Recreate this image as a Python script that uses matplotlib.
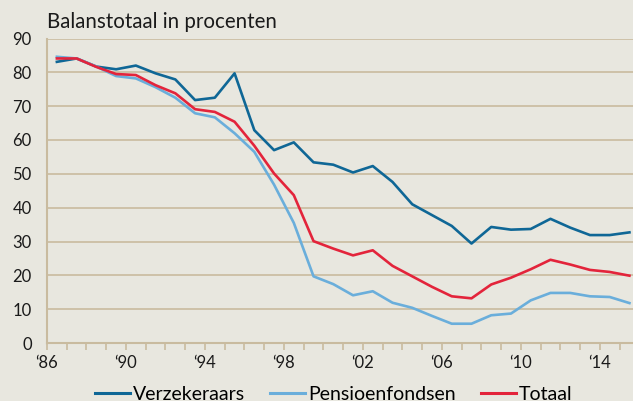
import matplotlib.pyplot as plt
from matplotlib.ticker import MultipleLocator, FixedLocator

# data (points sit mid-year)
years = list(range(1986, 2016))
verzekeraars = [83.1, 84.1, 81.7, 80.9, 82.0, 79.7, 77.9, 71.8, 72.5, 79.7,
                62.9, 57.0, 59.3, 53.4, 52.7, 50.4, 52.3, 47.6, 41.0, 37.8,
                34.6, 29.4, 34.3, 33.5, 33.7, 36.7, 34.1, 31.9, 31.9, 32.7]
pensioenfondsen = [84.6, 84.1, 81.7, 78.9, 78.2, 75.6, 72.5, 67.9, 66.7, 62.0,
                   56.5, 46.8, 35.5, 19.7, 17.4, 14.1, 15.3, 11.9, 10.4, 8.0,
                   5.7, 5.7, 8.2, 8.7, 12.6, 14.8, 14.8, 13.8, 13.6, 11.8]
totaal = [84.1, 84.1, 81.6, 79.5, 79.2, 76.2, 73.8, 69.1, 68.3, 65.4,
          58.3, 50.1, 43.7, 30.1, 27.9, 25.9, 27.4, 22.8, 19.7, 16.6,
          13.8, 13.2, 17.3, 19.3, 21.8, 24.6, 23.2, 21.6, 21.0, 19.9]
tick_years = [1986, 1990, 1994, 1998, 2002, 2006, 2010, 2014]
tick_labels = ["\u201886", "\u201890", "\u201894", "\u201898",
               "\u201802", "\u201806", "\u201810", "\u201814"]

bg = "#e8e7df"
grid_col = "#c9bb9f"

plt.rcParams['font.family'] = ['Lato', 'DejaVu Sans']

fig = plt.figure(figsize=(6.33, 4.01), dpi=100, facecolor=bg)
ax = fig.add_axes([47 / 633, 1 - 343 / 401, 1 - 47 / 633, (343 - 38.5) / 401])
ax.set_facecolor(bg)

x = [y + 0.5 for y in years]
ax.plot(x, verzekeraars, color="#0f6796", lw=1.9, label="Verzekeraars", zorder=3)
ax.plot(x, pensioenfondsen, color="#6aaedb", lw=1.9, label="Pensioenfondsen", zorder=3)
ax.plot(x, totaal, color="#e3243b", lw=1.9, label="Totaal", zorder=4)

ax.set_xlim(1986, 2015.68)
ax.set_ylim(0, 90)
ax.yaxis.set_major_locator(MultipleLocator(10))
ax.xaxis.set_major_locator(FixedLocator(tick_years))
ax.xaxis.set_minor_locator(MultipleLocator(1))
ax.set_xticklabels(tick_labels)

ax.grid(axis="y", color=grid_col, lw=1.2, zorder=1)
for side in ("top", "right"):
    ax.spines[side].set_visible(False)
for side in ("left", "bottom"):
    ax.spines[side].set_color(grid_col)
    ax.spines[side].set_linewidth(1.5)

ax.tick_params(axis="y", length=0, pad=11, labelsize=12, labelcolor="#1a1a1a")
ax.tick_params(axis="x", which="both", direction="out", color=grid_col,
               length=5, width=1.2, labelsize=12, labelcolor="#1a1a1a", pad=4)

fig.text(47 / 633, 1 - 22 / 401, "Balanstotaal in procenten", fontsize=14.8,
         color="#1a1a1a", va="center", ha="left")

leg = fig.legend(loc="center", bbox_to_anchor=(0.527, 1 - 394 / 401), ncol=3,
                 frameon=False, fontsize=14, handlelength=1.8, handletextpad=0.15,
                 columnspacing=1.3)
for line in leg.get_lines():
    line.set_linewidth(2.2)

fig.savefig("out.png", dpi=100, facecolor=bg)
